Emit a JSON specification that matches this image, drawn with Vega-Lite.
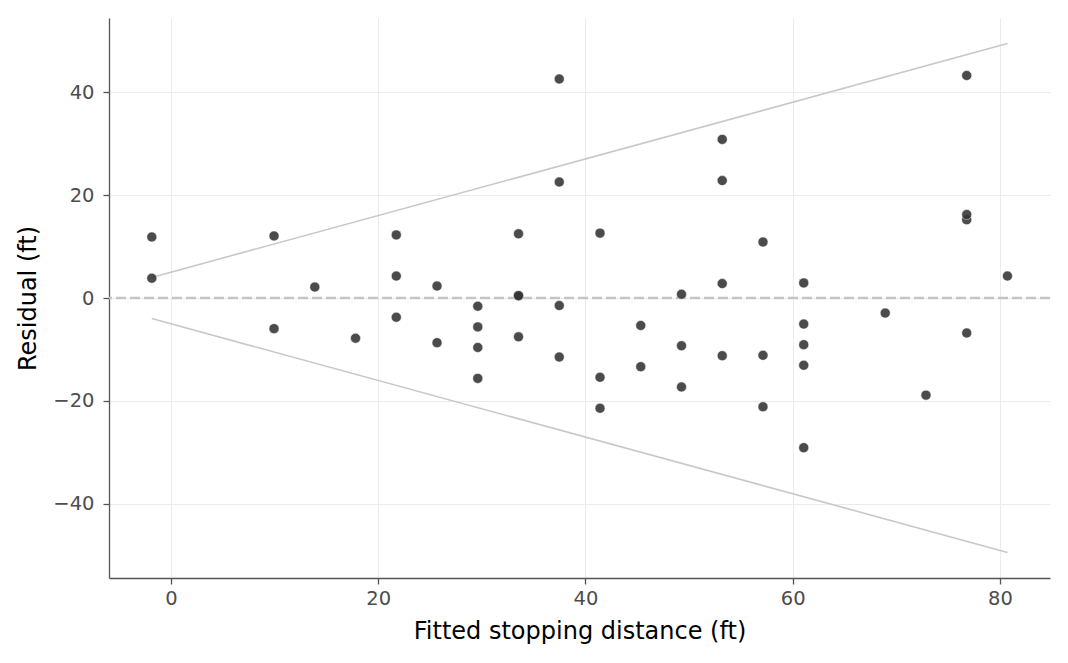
{
  "$schema": "https://vega.github.io/schema/vega-lite/v6.json",
  "width": 941,
  "height": 560,
  "autosize": "none",
  "padding": {"left": 109, "top": 18, "right": 18, "bottom": 85},
  "background": "white",
  "config": {
    "view": {"stroke": null},
    "font": "DejaVu Sans",
    "axis": {
      "labelFont": "DejaVu Sans",
      "titleFont": "DejaVu Sans",
      "labelFontSize": 19.5,
      "labelColor": "#4d4d4d",
      "titleFontSize": 24,
      "titleFontWeight": "normal",
      "titleColor": "#000000",
      "domainColor": "#555555",
      "domainWidth": 1.3,
      "tickColor": "#555555",
      "tickSize": 6,
      "tickWidth": 1.3,
      "gridColor": "#ebebeb",
      "gridWidth": 1
    }
  },
  "datasets": {
    "pts": [
      {"fitted": -1.849, "resid": 3.849}, {"fitted": -1.849, "resid": 11.849},
      {"fitted": 9.947, "resid": -5.947}, {"fitted": 9.947, "resid": 12.053},
      {"fitted": 13.880, "resid": 2.120},
      {"fitted": 17.812, "resid": -7.812},
      {"fitted": 21.744, "resid": -3.744}, {"fitted": 21.744, "resid": 4.256}, {"fitted": 21.744, "resid": 12.256},
      {"fitted": 25.676, "resid": -8.676}, {"fitted": 25.676, "resid": 2.324},
      {"fitted": 29.608, "resid": -15.608}, {"fitted": 29.608, "resid": -9.608}, {"fitted": 29.608, "resid": -5.608}, {"fitted": 29.608, "resid": -1.608},
      {"fitted": 33.540, "resid": -7.540}, {"fitted": 33.540, "resid": 0.460}, {"fitted": 33.540, "resid": 0.460}, {"fitted": 33.540, "resid": 12.460},
      {"fitted": 37.472, "resid": -11.472}, {"fitted": 37.472, "resid": -1.472}, {"fitted": 37.472, "resid": 22.528}, {"fitted": 37.472, "resid": 42.528},
      {"fitted": 41.404, "resid": -21.404}, {"fitted": 41.404, "resid": -15.404}, {"fitted": 41.404, "resid": 12.596},
      {"fitted": 45.336, "resid": -13.336}, {"fitted": 45.336, "resid": -5.336},
      {"fitted": 49.268, "resid": -17.268}, {"fitted": 49.268, "resid": -9.268}, {"fitted": 49.268, "resid": 0.732},
      {"fitted": 53.200, "resid": -11.200}, {"fitted": 53.200, "resid": 2.800}, {"fitted": 53.200, "resid": 22.800}, {"fitted": 53.200, "resid": 30.800},
      {"fitted": 57.132, "resid": -21.132}, {"fitted": 57.132, "resid": -11.132}, {"fitted": 57.132, "resid": 10.868},
      {"fitted": 61.064, "resid": -29.064}, {"fitted": 61.064, "resid": -13.064}, {"fitted": 61.064, "resid": -9.064}, {"fitted": 61.064, "resid": -5.064}, {"fitted": 61.064, "resid": 2.936},
      {"fitted": 68.929, "resid": -2.929},
      {"fitted": 72.861, "resid": -18.861},
      {"fitted": 76.793, "resid": -6.793}, {"fitted": 76.793, "resid": 15.207}, {"fitted": 76.793, "resid": 16.207}, {"fitted": 76.793, "resid": 43.207},
      {"fitted": 80.725, "resid": 4.275}
    ],
    "env": [
      {"side": "upper", "fitted": -1.849, "resid": 4.0},
      {"side": "upper", "fitted": 80.725, "resid": 49.4},
      {"side": "lower", "fitted": -1.849, "resid": -4.0},
      {"side": "lower", "fitted": 80.725, "resid": -49.4}
    ],
    "zero": [{"y": 0}]
  },
  "layer": [
    {
      "data": {"name": "zero"},
      "mark": {"type": "rule", "color": "#c4c4c4", "strokeWidth": 2.4, "strokeDash": [10, 4]},
      "encoding": {
        "y": {
          "field": "y", "type": "quantitative",
          "scale": {"domain": [-54.37, 54.37], "nice": false, "zero": false},
          "axis": {"title": "Residual (ft)", "values": [-40, -20, 0, 20, 40], "grid": true, "titlePadding": 12, "labelPadding": 9}
        }
      }
    },
    {
      "data": {"name": "env"},
      "mark": {"type": "line", "color": "#c8c8c8", "strokeWidth": 1.6},
      "encoding": {
        "x": {"field": "fitted", "type": "quantitative",
          "scale": {"domain": [-5.98, 84.83], "nice": false, "zero": false},
          "axis": {"title": "Fitted stopping distance (ft)", "values": [0, 20, 40, 60, 80], "grid": true, "titlePadding": 12, "labelPadding": 5}},
        "y": {"field": "resid", "type": "quantitative"},
        "detail": {"field": "side"}
      }
    },
    {
      "data": {"name": "pts"},
      "mark": {"type": "circle", "color": "#333333", "opacity": 0.88, "size": 100, "stroke": "white", "strokeWidth": 0.5},
      "encoding": {
        "x": {"field": "fitted", "type": "quantitative"},
        "y": {"field": "resid", "type": "quantitative"}
      }
    }
  ]
}
